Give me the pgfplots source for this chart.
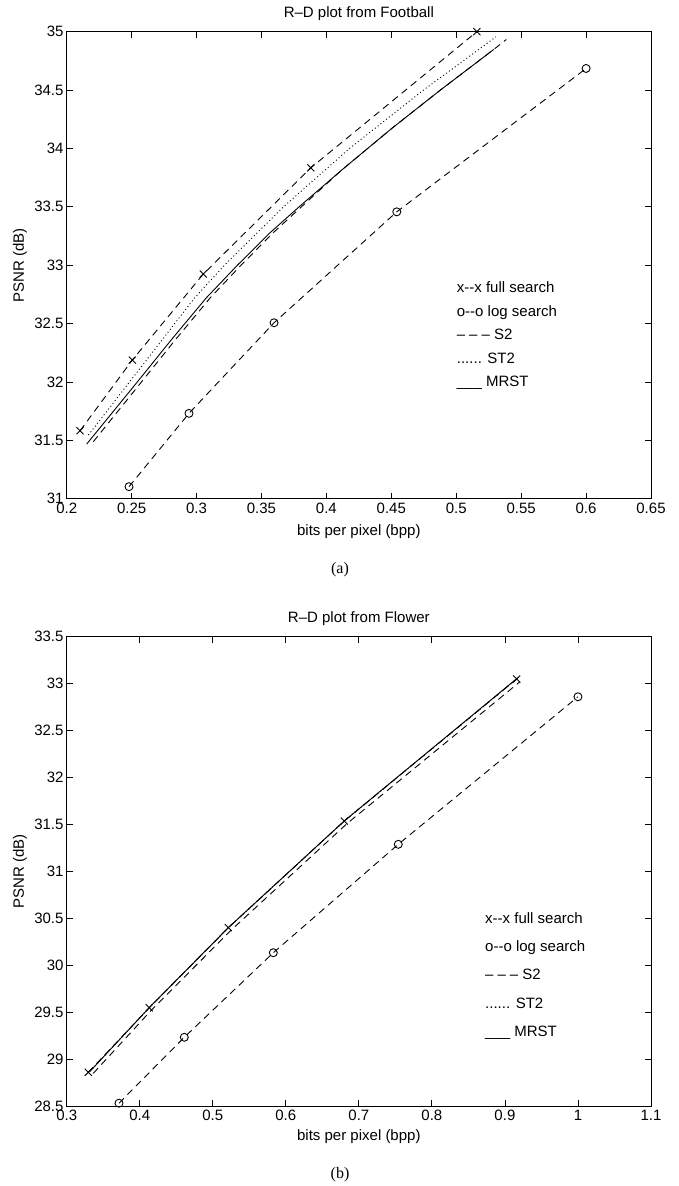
\documentclass[border=0pt]{standalone}
\usepackage{fontspec}
\setmainfont{Liberation Sans}
\newfontfamily\serifrm{Liberation Serif}
\usepackage{pgfplots}
\pgfplotsset{compat=1.18}
\begin{document}
\begin{tikzpicture}[x=1pt,y=1pt]
\pgfplotsset{
  myax/.style={
    scale only axis,
    width=584.3pt,
    anchor=south west,
    clip=false,
    font=\fontsize{15}{18}\selectfont,
    tick label style={font=\fontsize{15}{18}\selectfont},
    /pgf/number format/assume math mode=true,
    tick align=inside,
    major tick length=6pt,
    xtick pos=both, ytick pos=both,
    xticklabel pos=lower, yticklabel pos=left,
    xticklabel style={inner ysep=4pt},
    yticklabel style={inner xsep=3pt},
    axis line style={line width=0.9pt},
    every tick/.style={black, line width=0.8pt},
    ylabel={PSNR (dB)},
    xlabel={bits per pixel (bpp)},
    ylabel style={at={(axis description cs:-0.0799,0.5)}, anchor=center},
  },
  fs/.style={black, line width=0.9pt, dash pattern=on 7pt off 5pt, mark=x, mark size=5pt, mark options={solid, line width=0.9pt}},
  ls/.style={black, line width=0.9pt, dash pattern=on 7pt off 5pt, mark=o, mark size=4pt, mark options={solid, line width=0.9pt}},
  s2/.style={black, line width=0.9pt, dash pattern=on 7pt off 5pt, no marks},
  st2/.style={black, line width=0.9pt, dash pattern=on 1pt off 2.6pt, no marks},
  mr/.style={black, line width=0.9pt, solid, no marks},
}
% ---------------- (a) Football ----------------
\begin{axis}[myax,
  at={(66.7pt,687.3pt)}, height=467pt,
  xmin=0.2, xmax=0.65, ymin=31, ymax=35,
  xtick={0.2,0.25,0.3,0.35,0.4,0.45,0.5,0.55,0.6,0.65},
  xticklabels={0.2,0.25,0.3,0.35,0.4,0.45,0.5,0.55,0.6,0.65},
  ytick={31,31.5,32,32.5,33,33.5,34,34.5,35},
  yticklabels={31,31.5,32,32.5,33,33.5,34,34.5,35},
  title={R\textendash D plot from Football},
  title style={at={(axis description cs:0.5,1.025)}, anchor=center},
  xlabel style={at={(axis description cs:0.5,-0.0707)}, anchor=center},
]
\addplot[fs] coordinates {(0.2103,31.582) (0.2505,32.187) (0.3052,32.924) (0.3880,33.834) (0.5159,35.000)};
\addplot[ls] coordinates {(0.2480,31.103) (0.2942,31.731) (0.3597,32.507) (0.4542,33.457) (0.6000,34.685)};
\addplot[s2] coordinates {(0.2205,31.488) (0.2576,32.00) (0.2836,32.36) (0.3105,32.72) (0.3343,33.00) (0.3583,33.27) (0.3808,33.50) (0.4117,33.814) (0.4503,34.171) (0.4878,34.50) (0.5289,34.848) (0.5386,34.933)};
\addplot[st2] coordinates {(0.2167,31.545) (0.2484,32.00) (0.2735,32.36) (0.2985,32.72) (0.3215,33.00) (0.3670,33.50) (0.4178,34.00) (0.4748,34.50) (0.5306,34.956)};
\addplot[mr] coordinates {(0.2154,31.468) (0.2544,32.00) (0.2805,32.36) (0.3075,32.72) (0.3315,33.00) (0.3558,33.27) (0.3790,33.50) (0.4117,33.814) (0.4503,34.171) (0.4878,34.50) (0.5289,34.848)};
\end{axis}
% ---------------- (b) Flower ----------------
\begin{axis}[myax,
  at={(66.7pt,80pt)}, height=469.3pt,
  xmin=0.3, xmax=1.1, ymin=28.5, ymax=33.5,
  xtick={0.3,0.4,0.5,0.6,0.7,0.8,0.9,1.0,1.1},
  xticklabels={0.3,0.4,0.5,0.6,0.7,0.8,0.9,1,1.1},
  ytick={28.5,29,29.5,30,30.5,31,31.5,32,32.5,33,33.5},
  yticklabels={28.5,29,29.5,30,30.5,31,31.5,32,32.5,33,33.5},
  title={R\textendash D plot from Flower},
  title style={at={(axis description cs:0.5,1.025)}, anchor=center},
  xlabel style={at={(axis description cs:0.5,-0.066)}, anchor=center},
]
\addplot[fs] coordinates {(0.3296,28.859) (0.4131,29.547) (0.5213,30.400) (0.6801,31.536) (0.9161,33.049)};
\addplot[ls] coordinates {(0.3716,28.530) (0.4610,29.232) (0.5829,30.133) (0.7540,31.288) (1.0000,32.860)};
\addplot[s2] coordinates {(0.3364,28.848) (0.4170,29.530) (0.5260,30.380) (0.6840,31.510) (0.9206,33.020)};
\addplot[st2] coordinates {(0.3320,28.870) (0.4135,29.552) (0.5220,30.405) (0.6805,31.540) (0.9183,33.062)};
\addplot[mr] coordinates {(0.3320,28.870) (0.4135,29.552) (0.5220,30.405) (0.6805,31.540) (0.9183,33.067)};
\end{axis}
% legends (text, as in the original figure)
\newcommand\dsh{\textendash\hspace{4pt}\textendash\hspace{4pt}\textendash}
\begin{scope}[every node/.style={anchor=base west, inner sep=0pt, font=\fontsize{15}{18}\selectfont}]
\node at (456.7,893.3) {x-{}-x full search};
\node at (456.7,869.8) {o-{}-o log search};
\node at (456.7,846.3) {\dsh{} S2};
\node at (456.7,822.8) {...... ST2};
\node at (456.7,799.3) {\_\_\_ MRST};
\node at (485,262.7) {x-{}-x full search};
\node at (485,234.3) {o-{}-o log search};
\node at (485,206.0) {\dsh{} S2};
\node at (485,177.7) {...... ST2};
\node at (485,149.3) {\_\_\_ MRST};
\end{scope}
\node[font=\serifrm\fontsize{16}{19}\selectfont] at (340,616) {(a)};
\node[font=\serifrm\fontsize{16}{19}\selectfont] at (340,11) {(b)};
\pgfresetboundingbox
\useasboundingbox (0,0) rectangle (679,1186);
\end{tikzpicture}
\end{document}
